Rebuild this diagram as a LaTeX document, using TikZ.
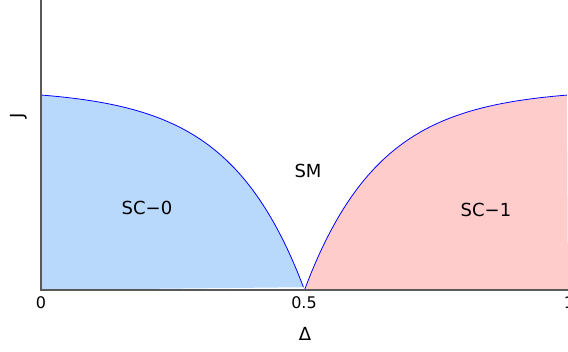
\documentclass[tikz,border=0pt]{standalone}
\usepackage{fontspec}
\setmainfont{DejaVu Sans}
\begin{document}
\begin{tikzpicture}[x=1pt,y=1pt,
  axisline/.style={draw=black!65, line width=1.3pt},
  boundary/.style={draw=blue, line width=0.8pt},
  ticklbl/.style={font=\fontsize{16}{16}\selectfont, inner sep=0pt},
  phaselbl/.style={font=\fontsize{18}{18}\selectfont, inner sep=0pt}]
\definecolor{scz}{RGB}{184,216,252}
\definecolor{sco}{RGB}{255,204,204}
\useasboundingbox (0,0) rectangle (568,352);
\begin{scope}[shift={(41,62)}, x=527pt, y=195pt]
  \fill[scz] (0,0) -- plot[domain=0:0.5, samples=200] (\x, {(1-exp(-7*(0.5-\x)))/(1-exp(-3.5))}) -- cycle;
  \fill[sco] (0.5,0) -- plot[domain=0.5:1, samples=200] (\x, {(1-exp(-7*(\x-0.5)))/(1-exp(-3.5))}) -- (1,0) -- cycle;
  \draw[boundary] plot[domain=0:0.5, samples=200] (\x, {(1-exp(-7*(0.5-\x)))/(1-exp(-3.5))});
  \draw[boundary] plot[domain=0.5:1, samples=200] (\x, {(1-exp(-7*(\x-0.5)))/(1-exp(-3.5))});
  \coordinate (origin) at (0,0);
  \coordinate (xend) at (1.1,0);
  \coordinate (ytop) at (0,1.6);
\end{scope}
\draw[axisline] (ytop) -- (origin) -- (xend);
\node[ticklbl] (t0) at (41,49) {0};
\node[ticklbl] (t05) at (304,49) {0.5};
\node[ticklbl] (t1) at (569,49) {1};
\node[phaselbl] (xl) at (305,18) {Δ};
\node[phaselbl, rotate=90] (yl) at (19,236) {J};
\node[phaselbl] (sm) at (308,181) {SM};
\node[phaselbl] (sc0) at (147,144) {SC−0};
\node[phaselbl] (sc1) at (486,142) {SC−1};
\end{tikzpicture}
\end{document}
